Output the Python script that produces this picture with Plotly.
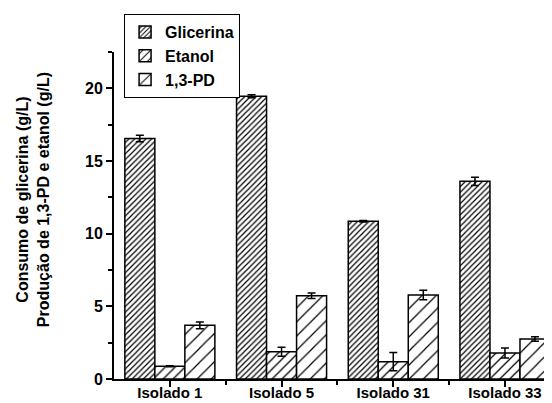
import plotly.graph_objects as go

categories = ["Isolado 1", "Isolado 5", "Isolado 31", "Isolado 33"]
glicerina = [16.55, 19.45, 10.85, 13.6]
glicerina_err = [0.22, 0.1, 0.05, 0.28]
etanol = [0.88, 1.88, 1.19, 1.79]
etanol_err = [0.03, 0.31, 0.63, 0.34]
pd13 = [3.69, 5.73, 5.78, 2.75]
pd13_err = [0.23, 0.19, 0.32, 0.15]
y_ticks = [0, 5, 10, 15, 20]

xpos = list(range(len(categories)))
FONT = "Liberation Sans, Arial, sans-serif"

series = [
    ("Glicerina", glicerina, glicerina_err, 4, 0.3),
    ("Etanol", etanol, etanol_err, 7, 0.18),
    ("1,3-PD", pd13, pd13_err, 10, 0.12),
]

fig = go.Figure()
for name, vals, errs, psize, psol in series:
    fig.add_trace(go.Bar(
        x=xpos, y=vals, name=name,
        marker=dict(color="white", line=dict(color="black", width=1.5),
                    pattern=dict(shape="/", size=psize, solidity=psol,
                                 fgcolor="black", bgcolor="white", fillmode="replace")),
        error_y=dict(type="data", array=errs, visible=True, color="black",
                     thickness=1.5, width=4),
    ))

fig.update_layout(
    width=544, height=395,
    margin=dict(l=106, r=0, t=44, b=24, autoexpand=False),
    paper_bgcolor="white", plot_bgcolor="white",
    barmode="group", bargap=0.194, bargroupgap=0,
    font=dict(family=FONT, size=16, color="black", weight="bold"),
    showlegend=True,
    legend=dict(x=0.023, y=1.116, xanchor="left", yanchor="top",
                bordercolor="black", borderwidth=1, bgcolor="white",
                font=dict(size=16, family=FONT, weight="bold"),
                tracegroupgap=0, itemwidth=30),
    xaxis=dict(range=[-0.5, 3.421], tickmode="array", tickvals=xpos, ticktext=categories,
               showline=True, linecolor="black", linewidth=2, mirror=False,
               ticks="outside", ticklen=6, tickwidth=2, tickcolor="black",
               ticklabelstandoff=-7,
               minor=dict(tickvals=[0.5, 1.5, 2.5], ticks="outside", ticklen=4,
                          tickwidth=2, tickcolor="black"),
               showgrid=False, zeroline=False,
               tickfont=dict(size=15, family=FONT, weight="bold")),
    yaxis=dict(range=[0, 22.5], tickmode="array", tickvals=y_ticks,
               showline=True, linecolor="black", linewidth=2,
               ticks="outside", ticklen=6, tickwidth=2, tickcolor="black",
               minor=dict(dtick=2.5, ticks="outside", ticklen=4, tickwidth=2,
                          tickcolor="black"),
               showgrid=False, zeroline=False,
               tickfont=dict(size=16, family=FONT, weight="bold")),
    annotations=[dict(
        text="Consumo de glicerina (g/L)<br>Produção de 1,3-PD e etanol (g/L)",
        xref="paper", yref="paper", x=0, y=0.547, xshift=-81,
        xanchor="center", yanchor="middle", textangle=-90, showarrow=False,
        font=dict(size=16, family=FONT, weight="bold"))],
)

fig.write_html("out.html")
